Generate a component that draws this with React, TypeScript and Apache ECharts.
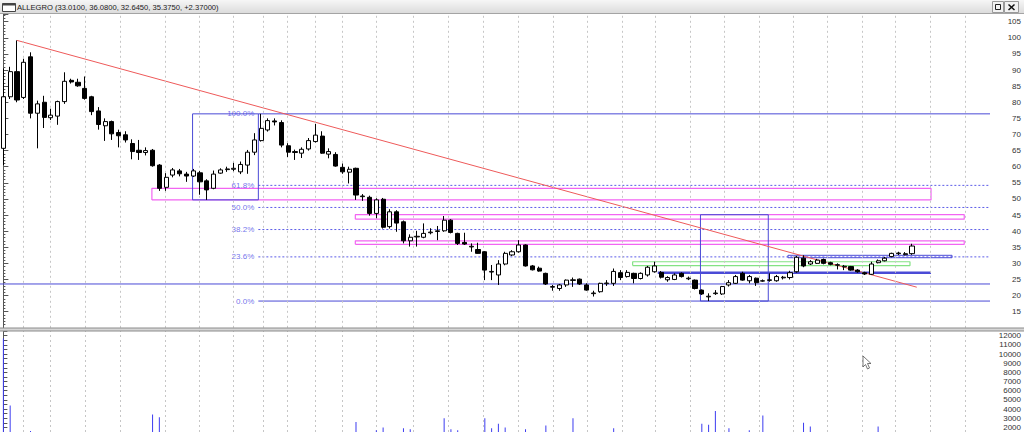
import React, { useEffect, useRef } from "react";
import * as echarts from "echarts";

// ---- data ----
const opens = [
  65.7, 81.7, 89.5, 81.5, 94.1, 76.6, 80.0, 75.2, 75.7, 80.2,
  86.8, 86.2, 84.3, 81.7, 77.3, 72.7, 74.0, 70.6, 69.9, 67.2,
  65.1, 64.4, 65.1, 60.5, 53.6, 57.4, 58.7, 57.7, 57.1, 58.1,
  55.6, 53.3, 58.0, 59.1, 59.2, 58.4, 60.5, 64.5, 68.1, 71.4,
  74.2, 73.7, 66.5, 64.4, 64.2, 65.5, 67.8, 69.5, 63.9, 63.8,
  59.8, 58.3, 59.5, 50.7, 50.5, 45.5, 49.9, 41.4, 46.0, 42.9,
  37.0, 38.2, 38.1, 39.5, 39.9, 40.1, 43.4, 39.3, 36.5, 35.1,
  34.3, 33.6, 27.3, 26.4, 29.8, 32.6, 33.6, 35.7, 29.2, 28.5,
  26.9, 22.6, 22.2, 23.3, 24.7, 25.1, 23.3, 20.6, 21.2, 23.7,
  23.8, 27.1, 25.9, 26.9, 25.3, 26.4, 27.4, 27.2, 24.9, 25.0,
  26.9, 25.2, 24.8, 21.7, 19.6, 20.6, 20.5, 23.3, 23.8, 26.9,
  24.6, 25.4, 24.5, 24.7, 24.6, 25.5, 25.6, 27.4, 31.6, 29.8,
  30.0, 31.2, 30.2, 29.4, 28.9, 29.0, 27.9, 27.1, 26.6, 30.2,
  30.8, 32.1, 33.0, 32.7, 33.01,
];
const highs = [
  90.5, 91.0, 99.2, 93.5, 95.5, 80.5, 82.0, 78.0, 80.5, 89.3,
  87.3, 87.3, 88.0, 82.0, 78.5, 75.0, 74.3, 71.5, 71.0, 68.5,
  68.3, 66.0, 65.5, 60.8, 58.0, 59.6, 59.3, 58.4, 59.3, 58.7,
  56.1, 58.8, 59.5, 60.0, 61.2, 61.6, 65.2, 70.4, 76.4, 75.0,
  75.0, 74.4, 67.3, 65.3, 66.0, 68.9, 73.3, 71.0, 65.7, 64.5,
  61.0, 60.0, 59.7, 51.5, 51.0, 50.2, 50.3, 46.8, 46.5, 43.3,
  39.0, 40.1, 42.4, 40.9, 41.6, 44.7, 43.7, 39.5, 39.5, 36.2,
  36.4, 33.8, 29.5, 31.0, 33.6, 34.1, 37.2, 35.9, 29.5, 29.0,
  27.1, 23.3, 23.6, 25.0, 25.6, 25.3, 23.8, 21.5, 24.0, 24.8,
  28.4, 27.9, 27.9, 27.1, 27.2, 29.2, 30.5, 27.6, 26.0, 26.9,
  27.2, 25.9, 25.0, 21.9, 20.7, 21.7, 23.0, 24.8, 26.4, 27.4,
  26.4, 25.6, 25.0, 26.9, 26.4, 26.1, 27.7, 32.3, 32.5, 31.0,
  31.4, 31.5, 30.5, 30.0, 29.5, 29.2, 28.2, 27.4, 30.5, 31.2,
  32.0, 33.3, 33.6, 33.5, 36.08,
];
const lows = [
  60.5, 81.0, 80.0, 81.0, 75.0, 65.7, 72.0, 74.5, 73.0, 79.5,
  85.8, 84.8, 80.8, 76.0, 71.5, 68.0, 68.3, 66.0, 67.5, 62.3,
  62.1, 63.5, 60.0, 52.5, 52.5, 56.7, 57.0, 55.3, 56.8, 51.3,
  49.7, 53.0, 57.8, 58.4, 58.6, 57.7, 57.8, 63.6, 67.8, 70.9,
  72.8, 66.0, 63.0, 62.1, 62.7, 65.0, 67.5, 64.0, 62.6, 60.0,
  57.8, 54.8, 49.7, 49.4, 44.8, 44.0, 40.8, 40.8, 39.8, 36.2,
  35.2, 35.2, 37.8, 39.0, 37.2, 39.8, 39.3, 35.7, 35.7, 33.6,
  33.0, 24.8, 24.8, 23.3, 29.4, 32.3, 33.3, 29.0, 27.8, 27.4,
  23.3, 21.5, 21.5, 22.7, 22.7, 23.3, 21.5, 19.7, 20.9, 23.0,
  23.0, 24.8, 25.6, 23.8, 25.0, 25.9, 27.1, 25.3, 24.3, 24.8,
  25.6, 24.8, 21.9, 20.2, 18.3, 20.2, 20.2, 22.8, 23.6, 24.6,
  23.8, 23.0, 24.3, 24.3, 24.3, 25.0, 25.0, 27.1, 28.8, 29.5,
  29.8, 29.7, 29.4, 28.1, 27.9, 27.7, 27.1, 26.4, 26.4, 30.0,
  30.6, 31.9, 32.6, 32.5, 32.645,
];
const closes = [
  81.7, 89.5, 80.7, 92.4, 76.6, 79.5, 75.3, 76.0, 80.2, 86.5,
  86.3, 85.1, 81.2, 77.1, 73.1, 74.0, 70.2, 69.6, 68.3, 64.7,
  64.4, 65.0, 60.3, 53.3, 56.7, 59.0, 57.8, 57.1, 58.7, 55.3,
  52.8, 57.7, 59.0, 59.3, 59.5, 60.7, 64.5, 68.3, 71.9, 74.3,
  73.9, 66.7, 64.5, 64.7, 65.4, 68.1, 69.8, 64.2, 64.7, 60.2,
  58.4, 59.2, 51.2, 50.9, 45.5, 49.7, 41.2, 46.0, 42.5, 37.0,
  38.1, 38.4, 39.3, 39.7, 40.1, 43.4, 39.6, 36.2, 36.0, 35.3,
  33.1, 27.9, 27.5, 29.8, 33.1, 33.6, 35.7, 29.2, 28.0, 27.6,
  23.6, 22.8, 23.3, 24.8, 24.9, 23.6, 21.7, 20.8, 23.8, 23.9,
  27.5, 25.6, 27.2, 25.3, 26.9, 28.8, 29.2, 25.7, 25.6, 26.4,
  25.9, 25.4, 22.2, 20.5, 19.8, 20.8, 22.8, 24.0, 25.9, 24.8,
  25.9, 24.0, 24.6, 24.9, 25.9, 25.7, 27.1, 31.9, 29.2, 30.5,
  31.0, 30.0, 29.7, 29.6, 29.1, 27.9, 27.4, 26.7, 29.8, 30.8,
  31.6, 33.1, 33.2, 33.0, 35.375,
];
const volumes = [
  11700, 4400, 1200, 900, 1600, 1100, 800, 700, 900, 1000,
  600, 700, 900, 800, 1000, 900, 700, 800, 600, 900,
  800, 700, 3400, 3100, 1300, 900, 700, 600, 800, 1100,
  1300, 1000, 700, 600, 800, 900, 1200, 1400, 1400, 1000,
  800, 1200, 900, 700, 600, 900, 1100, 1000, 800, 1100,
  900, 1000, 2600, 1200, 1300, 1700, 2000, 1400, 1300, 1900,
  1800, 1200, 1000, 800, 900, 3000, 1800, 1700, 1100, 900,
  1300, 3000, 1900, 2400, 2000, 1000, 1300, 1800, 1200, 900,
  2200, 1100, 900, 1000, 3000, 1200, 1400, 1300, 1100, 800,
  1900, 1000, 800, 900, 700, 1100, 1200, 1000, 800, 700,
  900, 600, 1400, 2400, 2300, 3800, 1200, 1900, 1300, 1100,
  1700, 1000, 3300, 900, 800, 700, 1200, 1400, 2500, 2100,
  1000, 900, 700, 800, 600, 900, 800, 1000, 1400, 2100,
  1200, 1100, 900, 1000, 1300,
];
const SLOTS = 146;
const categories = Array.from({ length: SLOTS }, (_, i) => String(i));

const titleText = "ALLEGRO (33.0100, 36.0800, 32.6450, 35.3750, +2.37000)";

// annotation drawings (in bar-index / price units)
const trendLine = [[2, 99.2], [134.7, 22.6]];
const fibHigh = 76.4;
const fibLow = 18.3;
const fibRatios = [1, 0.618, 0.5, 0.382, 0.236, 0];
const fibLabels = ["100.0%", "61.8%", "50.0%", "38.2%", "23.6%", "0.0%"];
const fibStart = 37.6;
const axisEnd = 145.5;
const supportLevel = 23.6;
const thickLine = [[96.5, 27.1], [136.8, 27.1]];
const magentaRects = [
  [21.9, 49.7, 136.8, 53.3],
  [51.9, 43.7, 141.7, 45.1],
  [51.9, 35.9, 141.7, 37.0],
];
const greenRects = [[92.8, 29.3, 133.7, 30.5]];
const blueBoxes = [
  [27.9, 49.7, 37.6, 76.4],
  [102.8, 18.3, 112.8, 45.1],
  [115.7, 31.75, 139.9, 32.5],
];
const gridCols = [
  2.9, 6.9, 12, 17.2, 23.9, 28.9, 33.9, 38.3, 41.8, 46, 50, 55, 60.4, 65.6,
  70.7, 75.9, 81.1, 86.1, 91.2, 96.2, 101.3, 106.3, 111.4, 116.5, 121.5,
  126.6, 131.6, 136.7, 141.8,
];

const BLUE = "#4a4ad6";
const MAGENTA = "#f264f2";
const GREEN = "#84e284";
const FONT = "Liberation Sans";

function rectPts(r: number[]) {
  const [x1, y1, x2, y2] = r;
  return [[x1, y1], [x2, y1], [x2, y2], [x1, y2], [x1, y1]];
}

function lineSeries(data: number[][], color: string, width: number, type: any = "solid", z = 3) {
  return {
    type: "line",
    xAxisIndex: 1,
    yAxisIndex: 0,
    data,
    symbol: "none",
    silent: true,
    lineStyle: { color, width, type },
    z,
  };
}

export default function App() {
  const ref = useRef<HTMLDivElement>(null);
  useEffect(() => {
    document.body.style.margin = "0";
    const chart = echarts.init(ref.current!, null, { renderer: "svg" });

    const fibLevels = fibRatios.map((r) => fibLow + r * (fibHigh - fibLow));
    const series: any[] = [];

    // vertical dashed grid lines
    const gl = (xi: number, yi: number) => ({
      type: "line",
      xAxisIndex: xi,
      yAxisIndex: yi,
      data: [],
      silent: true,
      z: 1,
      markLine: {
        silent: true,
        symbol: ["none", "none"],
        label: { show: false },
        lineStyle: { color: "#c6c6c6", type: [2, 3], width: 1 },
        data: gridCols.map((v) => ({ xAxis: v })),
      },
    });
    series.push(gl(1, 0));
    series.push(gl(3, 1));

    series.push(lineSeries([[-0.5, supportLevel], [axisEnd, supportLevel]], BLUE, 1));
    fibLevels.forEach((lv, k) => {
      const solid = fibRatios[k] === 1 || fibRatios[k] === 0;
      series.push(
        lineSeries([[fibStart, lv], [axisEnd, lv]], solid ? BLUE : "#5c5ce8", 1, solid ? "solid" : [2, 2])
      );
    });
    series.push({
      type: "scatter",
      xAxisIndex: 1,
      yAxisIndex: 0,
      symbolSize: 0.1,
      silent: true,
      itemStyle: { color: "rgba(0,0,0,0)" },
      data: fibLabels.map((l, k) => ({ name: l, value: [fibStart, fibLevels[k]] })),
      label: {
        show: true,
        position: "left",
        distance: 4,
        formatter: "{b}",
        color: "#4e4ee6",
        fontSize: 8,
        fontFamily: FONT,
      },
      z: 4,
    });
    magentaRects.forEach((r) => series.push(lineSeries(rectPts(r), MAGENTA, 1.2)));
    greenRects.forEach((r) => series.push(lineSeries(rectPts(r), GREEN, 1.2)));
    blueBoxes.forEach((r) => series.push(lineSeries(rectPts(r), BLUE, 1)));
    series.push(lineSeries(thickLine, BLUE, 2.6));
    series.push(lineSeries(trendLine, "#ee5a5a", 1, "solid", 4));

    series.push({
      type: "candlestick",
      xAxisIndex: 0,
      yAxisIndex: 0,
      barWidth: 4.6,
      data: opens.map((o, i) => [o, closes[i], lows[i], highs[i]]),
      itemStyle: {
        color: "#ffffff",
        color0: "#000000",
        borderColor: "#000000",
        borderColor0: "#000000",
        borderWidth: 1,
      },
      z: 6,
    });
    series.push({
      type: "bar",
      xAxisIndex: 2,
      yAxisIndex: 1,
      barWidth: 1,
      data: volumes,
      itemStyle: { color: "#3c3cf0" },
      z: 5,
    });

    const yCommon = {
      type: "value",
      position: "right",
      axisLine: { show: true, lineStyle: { color: "#555", width: 1 } },
      splitLine: { show: false },
    };

    chart.setOption({
      animation: false,
      backgroundColor: "#ffffff",
      textStyle: { fontFamily: FONT },
      grid: [
        { left: 0, width: 990, top: 14, height: 313.8 },
        { left: 0, width: 990, top: 331, height: 101 },
      ],
      xAxis: [
        { type: "category", gridIndex: 0, data: categories, show: false, boundaryGap: true },
        { type: "value", gridIndex: 0, min: -0.5, max: 145.5, show: false },
        { type: "category", gridIndex: 1, data: categories, show: false, boundaryGap: true },
        { type: "value", gridIndex: 1, min: -0.5, max: 145.5, show: false },
      ],
      yAxis: [
        {
          ...yCommon,
          gridIndex: 0,
          min: 10,
          max: 107.39,
          interval: 5,
          axisTick: { show: true, length: 5, lineStyle: { color: "#555" } },
          minorTick: { show: true, splitNumber: 5, length: 2, lineStyle: { color: "#555" } },
          axisLabel: {
            fontSize: 8,
            color: "#333",
            align: "right",
            margin: 31,
            showMinLabel: false,
            showMaxLabel: false,
            fontFamily: FONT,
          },
        },
        {
          ...yCommon,
          gridIndex: 1,
          min: 1500,
          max: 12514,
          interval: 500,
          axisTick: { show: true, length: 4, lineStyle: { color: "#555" } },
          minorTick: { show: false },
          axisLabel: {
            fontSize: 8,
            color: "#333",
            align: "right",
            margin: 31,
            showMinLabel: false,
            showMaxLabel: false,
            fontFamily: FONT,
            formatter: (v: number) => (v % 1000 === 0 ? String(v) : ""),
          },
        },
      ],
      series,
      graphic: [
        {
          type: "rect",
          shape: { x: 0, y: 0, width: 1024, height: 13 },
          style: {
            fill: new echarts.graphic.LinearGradient(0, 0, 0, 1, [
              { offset: 0, color: "#f6f6f6" },
              { offset: 1, color: "#dcdcdc" },
            ]),
          },
          z: 100,
        },
        { type: "line", shape: { x1: 0, y1: 13.5, x2: 1024, y2: 13.5 }, style: { stroke: "#a4a4a4", lineWidth: 1 }, z: 101 },
        { type: "rect", shape: { x: 2.5, y: 3.5, width: 13, height: 8 }, style: { fill: "#fff", stroke: "#444", lineWidth: 1 }, z: 101 },
        { type: "rect", shape: { x: 2.5, y: 3.5, width: 13, height: 2 }, style: { fill: "#444" }, z: 102 },
        {
          type: "text",
          x: 17,
          y: 7,
          style: { text: titleText, fontSize: 7.6, fontFamily: FONT, fill: "#1a1a1a", verticalAlign: "middle", align: "left" },
          z: 102,
        },
        { type: "rect", shape: { x: 992.5, y: 1.5, width: 11, height: 11 }, style: { fill: "#f2f2f2", stroke: "#9a9a9a", lineWidth: 1 }, z: 101 },
        { type: "rect", shape: { x: 995.5, y: 4.5, width: 5, height: 5 }, style: { fill: "none", stroke: "#222", lineWidth: 1 }, z: 102 },
        { type: "rect", shape: { x: 1004.5, y: 1.5, width: 14, height: 11 }, style: { fill: "#f2f2f2", stroke: "#9a9a9a", lineWidth: 1 }, z: 101 },
        { type: "line", shape: { x1: 1008.5, y1: 4.5, x2: 1014.5, y2: 10 }, style: { stroke: "#111", lineWidth: 1.5 }, z: 102 },
        { type: "line", shape: { x1: 1014.5, y1: 4.5, x2: 1008.5, y2: 10 }, style: { stroke: "#111", lineWidth: 1.5 }, z: 102 },
        { type: "rect", shape: { x: 0, y: 328, width: 1024, height: 3 }, style: { fill: "#d6d6d6" }, z: 100 },
        { type: "line", shape: { x1: 0, y1: 328, x2: 1024, y2: 328 }, style: { stroke: "#8c8c8c", lineWidth: 1 }, z: 101 },
        { type: "line", shape: { x1: 0, y1: 331, x2: 1024, y2: 331 }, style: { stroke: "#8c8c8c", lineWidth: 1 }, z: 101 },
        {
          type: "polygon",
          shape: { points: [[863, 356], [863, 367], [865.5, 364.5], [867.5, 369], [869.5, 368], [867.5, 363.5], [871, 363.5]] },
          style: { fill: "#ffffff", stroke: "#555", lineWidth: 0.8 },
          z: 103,
        },
      ],
    });
    return () => chart.dispose();
  }, []);
  return <div ref={ref} style={{ width: 1024, height: 432 }} />;
}
